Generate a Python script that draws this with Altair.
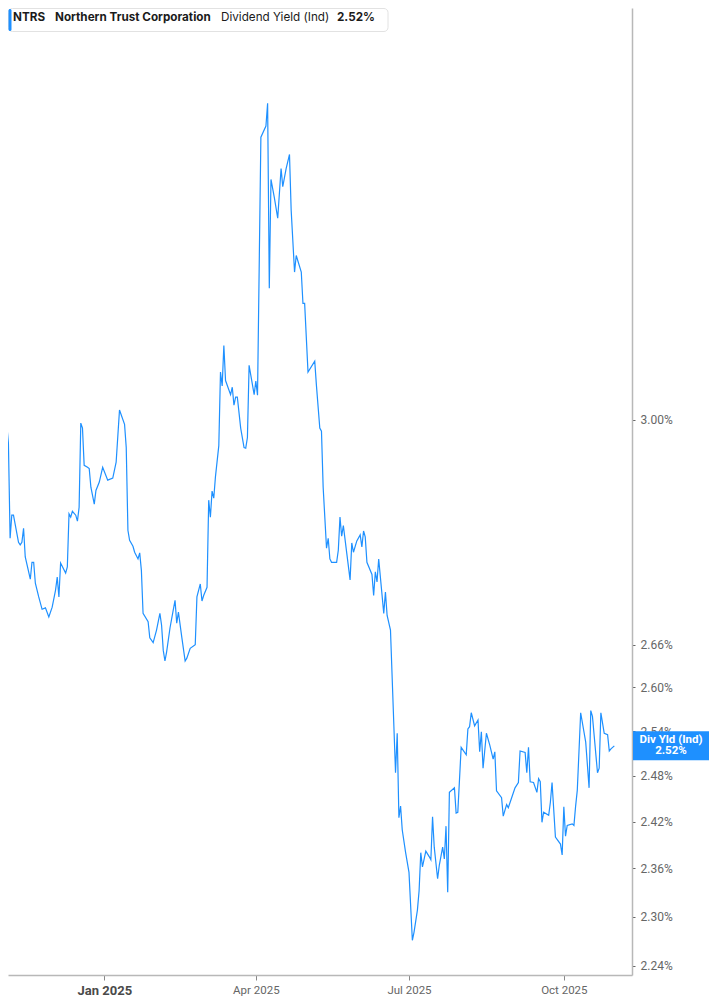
import altair as alt
import pandas as pd

# ---------------- data ----------------
START_DATE = "2024-10-31"
DAY_OFFSETS = [
    0, 1, 4, 5, 6, 7, 8, 11, 12, 13, 14, 15, 18, 19, 20, 21, 23, 25, 27, 29,
    31, 33, 34, 35, 36, 39, 40, 41, 42, 43, 45, 46, 47, 48, 49, 50, 52, 53, 54, 56,
    57, 59, 61, 64, 67, 69, 71, 74, 75, 76, 77, 79, 80, 82, 83, 84, 85, 88, 89, 91,
    93, 95, 96, 97, 98, 99, 101, 103, 104, 105, 106, 108, 110, 111, 113, 116, 117, 119, 120, 121,
    123, 124, 125, 126, 127, 128, 130, 131, 132, 133, 134, 137, 138, 139, 140, 141, 143, 145, 146, 147,
    148, 151, 152, 153, 155, 158, 159, 160, 161, 163, 165, 167, 168, 170, 172, 173, 175, 176, 179, 180,
    181, 183, 187, 188, 190, 191, 192, 194, 195, 196, 197, 200, 201, 202, 203, 204, 206, 208, 209, 210,
    212, 214, 215, 216, 217, 218, 221, 222, 223, 224, 225, 228, 229, 230, 232, 235, 236, 237, 238, 239,
    241, 243, 245, 246, 248, 249, 250, 251, 253, 255, 256, 257, 258, 260, 261, 263, 264, 265, 266, 267,
    270, 271, 272, 274, 277, 278, 279, 280, 282, 284, 285, 286, 287, 289, 291, 293, 294, 295, 298, 299,
    301, 302, 304, 306, 308, 309, 312, 313, 314, 315, 317, 319, 320, 321, 322, 323, 326, 327, 328, 330,
    333, 334, 335, 336, 337, 340, 341, 342, 343, 345, 348, 350, 351, 352, 355, 356, 357, 359, 361, 362,
    363, 365,
]
DIV_YIELD = [
    2.985, 3.003, 2.993, 2.963, 2.816, 2.851, 2.851, 2.810, 2.806, 2.810, 2.831, 2.788, 2.755, 2.780, 2.780, 2.749, 2.729, 2.711, 2.713, 2.700,
    2.714, 2.739, 2.758, 2.729, 2.779, 2.764, 2.773, 2.853, 2.848, 2.857, 2.851, 2.842, 2.863, 2.995, 2.987, 2.928, 2.925, 2.923, 2.894, 2.868,
    2.889, 2.902, 2.925, 2.905, 2.908, 2.933, 3.016, 2.993, 2.956, 2.828, 2.813, 2.804, 2.795, 2.785, 2.794, 2.768, 2.705, 2.693, 2.670, 2.663,
    2.681, 2.705, 2.688, 2.652, 2.637, 2.650, 2.684, 2.711, 2.724, 2.691, 2.707, 2.671, 2.637, 2.641, 2.655, 2.660, 2.729, 2.748, 2.723, 2.731,
    2.743, 2.874, 2.848, 2.888, 2.877, 2.910, 2.959, 3.078, 3.055, 3.122, 3.064, 3.041, 3.053, 3.024, 3.037, 3.037, 2.987, 2.956, 2.955, 2.972,
    3.089, 3.041, 3.063, 3.040, 3.490, 3.511, 3.554, 3.219, 3.412, 3.379, 3.342, 3.432, 3.399, 3.432, 3.458, 3.356, 3.247, 3.276, 3.247, 3.193,
    3.193, 3.078, 3.096, 3.056, 2.987, 2.982, 2.894, 2.801, 2.816, 2.785, 2.780, 2.780, 2.798, 2.848, 2.819, 2.835, 2.794, 2.754, 2.809, 2.795,
    2.812, 2.821, 2.803, 2.827, 2.818, 2.780, 2.762, 2.731, 2.766, 2.751, 2.785, 2.705, 2.736, 2.702, 2.681, 2.484, 2.537, 2.425, 2.440, 2.409,
    2.380, 2.355, 2.271, 2.281, 2.308, 2.332, 2.380, 2.362, 2.382, 2.375, 2.371, 2.426, 2.387, 2.347, 2.364, 2.387, 2.372, 2.414, 2.330, 2.458,
    2.464, 2.431, 2.432, 2.518, 2.508, 2.543, 2.546, 2.565, 2.547, 2.555, 2.512, 2.539, 2.490, 2.537, 2.521, 2.502, 2.512, 2.460, 2.451, 2.427,
    2.442, 2.438, 2.451, 2.464, 2.471, 2.513, 2.511, 2.484, 2.518, 2.472, 2.471, 2.458, 2.476, 2.472, 2.419, 2.432, 2.428, 2.445, 2.471, 2.400,
    2.391, 2.377, 2.439, 2.401, 2.415, 2.417, 2.415, 2.440, 2.461, 2.565, 2.525, 2.464, 2.568, 2.560, 2.484, 2.490, 2.565, 2.537, 2.535, 2.513,
    2.516, 2.520,
]
Y_TICKS = [2.24, 2.30, 2.36, 2.42, 2.48, 2.54, 2.60, 2.66, 3.00]
X_TICK_MONTHS = [1, 4, 7, 10]
TICKER = "NTRS"
COMPANY = "Northern Trust Corporation"
METRIC = "Dividend Yield (Ind)"
SHORT_METRIC = "Div Yld (Ind)"

BLUE = "#1e90ff"

dates = pd.Timestamp(START_DATE) + pd.to_timedelta(DAY_OFFSETS, unit="D")
df = pd.DataFrame({"date": dates.strftime("%Y-%m-%dT00:00:00"), "value": DIV_YIELD})
last_df = df.tail(1).copy()
last_df["label"] = last_df["value"].map(lambda v: f"{v:.2f}%")
head_df = pd.DataFrame({
    "ticker": [TICKER], "company": [COMPANY], "metric": [METRIC],
    "last": [f"{DIV_YIELD[-1]:.2f}%"], "short": [SHORT_METRIC],
})

W, H = 624, 967
BOX_L, BOX_R = 625, 701
BOX_C = (BOX_L + BOX_R) / 2
BOX_W = BOX_R - BOX_L

x_scale = alt.Scale(domain=[alt.DateTime(year=2024, month=11, date=4, hours=18),
                            alt.DateTime(year=2025, month=11, date=10, hours=12)])
y_scale = alt.Scale(type="log", domain=[2.2292, 3.7398], nice=False, zero=False)

x_axis = alt.Axis(
    values=[alt.DateTime(year=2025, month=m, date=1) for m in X_TICK_MONTHS],
    format="%b %Y", title=None, grid=False,
    labelFont="Roboto",
    labelFontSize={"expr": "month(datum.value) == 0 ? 13 : 11.5"},
    labelFontWeight={"expr": "month(datum.value) == 0 ? 'bold' : 'normal'"},
    labelColor={"expr": "month(datum.value) == 0 ? '#4a4a4a' : '#666666'"},
    tickSize=5, tickColor="#888888", tickWidth=1,
    domainColor="#b8b8b8", domainWidth=1.5, labelPadding=4,
)
y_axis = alt.Axis(
    orient="right", values=Y_TICKS, title=None, grid=False,
    labelExpr="format(datum.value, '.2f') + '%'",
    labelFont="Roboto", labelFontSize=12, labelColor="#666666",
    tickSize=3, tickColor="#666666", tickWidth=1,
    domainColor="#b8b8b8", domainWidth=1.5, labelPadding=5,
)

line = alt.Chart(df).mark_line(color=BLUE, strokeWidth=1.2, clip=True).encode(
    x=alt.X("date:T", scale=x_scale, axis=x_axis),
    y=alt.Y("value:Q", scale=y_scale, axis=y_axis),
)

half_h = 14.5 / (BOX_W / 2)
box = alt.Chart(last_df).mark_point(
    shape=f"M-1,-{half_h:.4f}L1,-{half_h:.4f}L1,{half_h:.4f}L-1,{half_h:.4f}Z",
    size=BOX_W * BOX_W, filled=True, color=BLUE, opacity=1, strokeWidth=0,
).encode(x=alt.value(BOX_C), y=alt.Y("value:Q", scale=y_scale))

box_t1 = alt.Chart(last_df).mark_text(
    font="Roboto", fontSize=11.5, fontWeight="bold", color="white", dy=-6, baseline="middle",
).encode(x=alt.value(BOX_C), y=alt.Y("value:Q", scale=y_scale), text=alt.value(SHORT_METRIC))
box_t2 = alt.Chart(last_df).mark_text(
    font="Roboto", fontSize=11.5, fontWeight="bold", color="white", dy=5, baseline="middle",
).encode(x=alt.value(BOX_C), y=alt.Y("value:Q", scale=y_scale), text="label:N")

hdr_box = alt.Chart(head_df).mark_rect(
    fill="white", stroke="#e2e2e2", strokeWidth=1, cornerRadius=4,
).encode(x=alt.value(0.5), x2=alt.value(380), y=alt.value(0.5), y2=alt.value(23.5))
hdr_bar = alt.Chart(head_df).mark_rect(fill=BLUE, cornerRadius=1.5).encode(
    x=alt.value(0.5), x2=alt.value(3.5), y=alt.value(1), y2=alt.value(23))

def hdr_text(field, x, weight):
    return alt.Chart(head_df).mark_text(
        font="Inter", fontSize=11.7, fontWeight=weight, color="#1b1b1b",
        align="left", baseline="middle",
    ).encode(x=alt.value(x), y=alt.value(9), text=f"{field}:N")

chart = alt.layer(
    line, box, box_t1, box_t2, hdr_box, hdr_bar,
    hdr_text("ticker", 5, "bold"),
    hdr_text("company", 47, "bold"),
    hdr_text("metric", 213, "normal"),
    hdr_text("last", 329, "bold"),
).properties(width=W, height=H, padding=0).configure_view(stroke=None)

chart.save("out.html", embed_options={"renderer": "svg", "actions": False})
